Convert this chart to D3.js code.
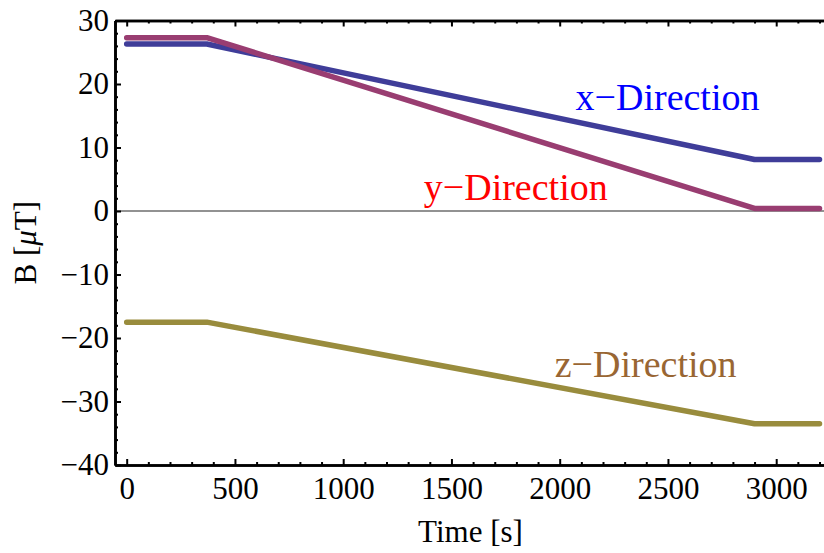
<!DOCTYPE html>
<html>
<head>
<meta charset="utf-8">
<script src="https://cdn.jsdelivr.net/npm/d3@7"></script>
<style>
  body { margin: 0; background: #fff; }
  svg { display: block; }
  svg text { font-family: "Liberation Serif", "Times New Roman", serif; }
</style>
</head>
<body>
<svg id="chart" width="824" height="553"></svg>
<script>
// Field components over time
const times = [0, 370, 2900, 3200];
const bx = [26.3, 26.3, 8.1, 8.1];
const by = [27.3, 27.3, 0.4, 0.4];
const bz = [-17.5, -17.5, -33.5, -33.5];

const xTicks = [0, 500, 1000, 1500, 2000, 2500, 3000];
const yTicks = [-40, -30, -20, -10, 0, 10, 20, 30];

const seriesNames = ['x\u2212Direction', 'y\u2212Direction', 'z\u2212Direction'];

const FONT = '"Liberation Serif", "Times New Roman", serif';
const svg = d3.select('#chart');
const margin = { left: 115, top: 20.5, right: -2, bottom: 88 };
const width = 824 - margin.left - margin.right;
const height = 553 - margin.top - margin.bottom;

const x = d3.scaleLinear().domain([-54, 3230]).range([margin.left, margin.left + width]);
const y = d3.scaleLinear().domain([-40, 30]).range([margin.top + height, margin.top]);

const fmt = d => d < 0 ? '\u2212' + Math.abs(d) : String(d);

// zero line
svg.append('line')
  .attr('x1', x.range()[0]).attr('x2', x.range()[1])
  .attr('y1', y(0)).attr('y2', y(0))
  .attr('stroke', '#6e6e6e').attr('stroke-width', 1.3);

const series = [
  { values: bx, color: '#3f3d99', label: seriesNames[0], labelColor: '#0000ff', lx: 2498, ly: 15.9 },
  { values: by, color: '#993d71', label: seriesNames[1], labelColor: '#ff0000', lx: 1797, ly: 1.7 },
  { values: bz, color: '#998c3d', label: seriesNames[2], labelColor: '#996633', lx: 2397, ly: -26.1 }
];

const line = d3.line().x((d, i) => x(times[i])).y(d => y(d));

svg.append('g').selectAll('path')
  .data(series)
  .join('path')
  .attr('d', s => line(s.values))
  .attr('fill', 'none')
  .attr('stroke', s => s.color)
  .attr('stroke-width', 5.5)
  .attr('stroke-linecap', 'round')
  .attr('stroke-linejoin', 'round');

svg.append('g').selectAll('text')
  .data(series)
  .join('text')
  .attr('x', s => x(s.lx))
  .attr('y', s => y(s.ly))
  .attr('text-anchor', 'middle')
  .attr('fill', s => s.labelColor)
  .style('font-size', '38px')
  .text(s => s.label);

// frame ticks (inside), minor every 100 s and 2 uT
const minorX = d3.range(0, 3300, 100).filter(v => v % 500 !== 0);
const minorY = d3.range(-40, 31, 2).filter(v => v % 10 !== 0);

function tickAxis(axisFn, scale, ticks, size) {
  return axisFn(scale).tickValues(ticks).tickSize(size).tickSizeOuter(0).tickFormat('');
}

const bottomY = margin.top + height;
const gb = svg.append('g').attr('transform', `translate(0,${bottomY})`);
gb.call(tickAxis(d3.axisTop, x, xTicks, 6));
gb.append('g').call(tickAxis(d3.axisTop, x, minorX, 3));

const gbl = svg.append('g').attr('transform', `translate(0,${bottomY})`)
  .call(d3.axisBottom(x).tickValues(xTicks).tickSize(0).tickPadding(12).tickFormat(fmt));
gbl.select('.domain').remove();

const gt = svg.append('g').attr('transform', `translate(0,${margin.top})`);
gt.call(tickAxis(d3.axisBottom, x, xTicks, 6));
gt.append('g').call(tickAxis(d3.axisBottom, x, minorX, 3));

const gl = svg.append('g').attr('transform', `translate(${margin.left},0)`);
gl.call(tickAxis(d3.axisRight, y, yTicks, 6));
gl.append('g').call(tickAxis(d3.axisRight, y, minorY, 3));

const gll = svg.append('g').attr('transform', `translate(${margin.left},0)`)
  .call(d3.axisLeft(y).tickValues(yTicks).tickSize(0).tickPadding(6).tickFormat(fmt));
gll.select('.domain').remove();

svg.selectAll('g').attr('font-family', FONT).attr('font-size', 31);
svg.selectAll('.tick line').attr('stroke', '#000').attr('stroke-width', 2);
svg.selectAll('.domain').attr('stroke', '#000').attr('stroke-width', 2.6);
svg.selectAll('.tick text').attr('fill', '#000');

// axis titles
svg.append('text')
  .attr('x', (x.range()[0] + x.range()[1]) / 2)
  .attr('y', 542)
  .attr('text-anchor', 'middle')
  .style('font-size', '31px')
  .text('Time [s]');

const yTitle = svg.append('text')
  .attr('transform', `translate(36,${(y.range()[0] + y.range()[1]) / 2}) rotate(-90)`)
  .attr('text-anchor', 'middle')
  .style('font-size', '31px');
yTitle.append('tspan').text('B [');
yTitle.append('tspan').style('font-style', 'italic').text('\u03bc');
yTitle.append('tspan').text('T]');
</script>
</body>
</html>
